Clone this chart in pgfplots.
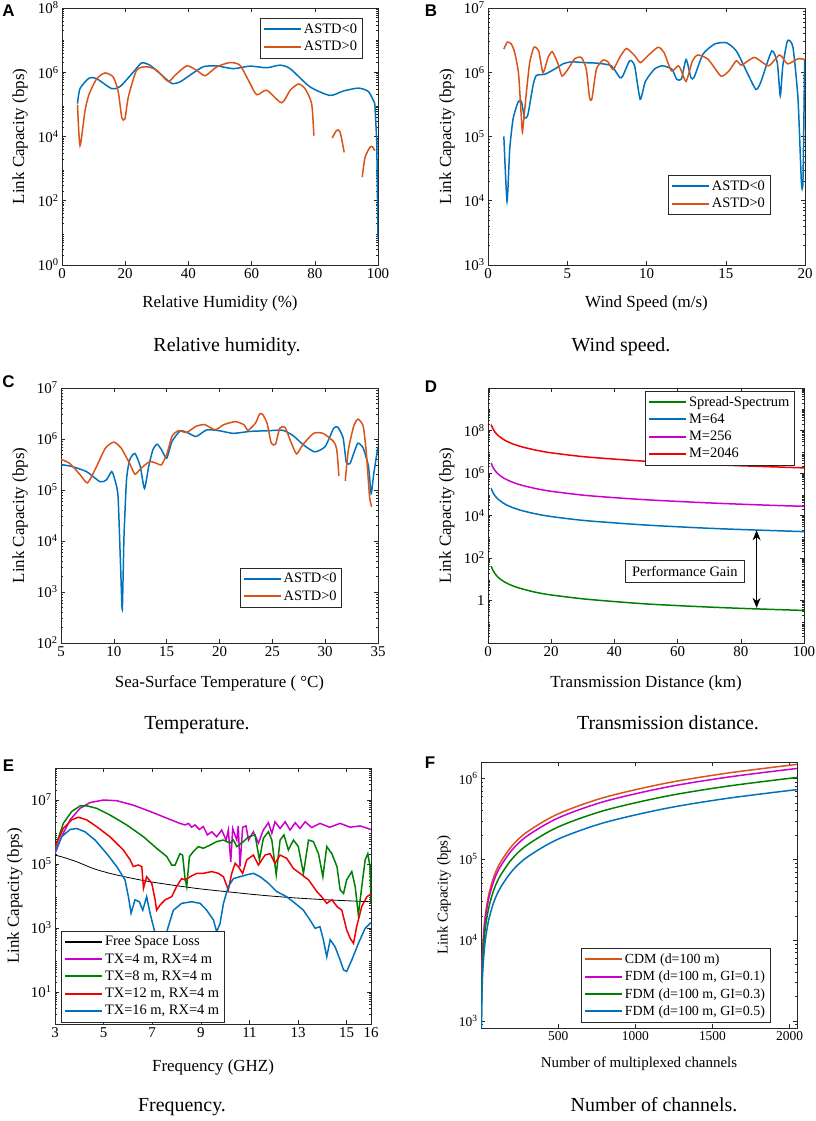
\documentclass[border=0pt]{standalone}
\usepackage{fontspec}
\setmainfont{Liberation Serif}
\newfontfamily\panelfont{Liberation Sans}
\usepackage{pgfplots}
\pgfplotsset{compat=1.18}
\usetikzlibrary{arrows.meta}
\pgfkeys{/pgf/number format/assume math mode=true}
\pgfkeys{/pgf/number format/1000 sep={}}
\definecolor{mblue}{RGB}{0,114,189}
\definecolor{morange}{RGB}{217,83,25}
\definecolor{mgreen}{RGB}{0,128,0}
\definecolor{mmag}{RGB}{204,0,204}
\definecolor{mred}{RGB}{240,0,0}
\definecolor{axgray}{RGB}{40,40,40}

\newcommand\mkminor[3]{%
  \gdef#1{}%
  \foreach \e in {#2,...,#3}{%
    \foreach \m in {2,...,9}{%
      \xdef#1{#1\m e\e,}%
    }%
  }%
  \xdef#1{#1 1e#3}%
}
\mkminor{\minA}{0}{7}
\mkminor{\minB}{3}{6}
\mkminor{\minC}{2}{6}
\mkminor{\minD}{-2}{9}
\mkminor{\minE}{0}{7}
\mkminor{\minF}{2}{6}

\pgfplotsset{
  scale only axis,
  axis line style={axgray, line width=0.6pt},
  tick style={axgray, line width=0.5pt},
  major tick length=4pt, minor tick length=2.2pt,
  tick label style={font=\fontsize{15}{17}\selectfont},
  label style={font=\fontsize{17}{20}\selectfont},
  legend style={font=\fontsize{14.5}{17}\selectfont, draw=axgray, inner xsep=3pt, inner ysep=3.5pt, row sep=2.2pt, fill=white},
  legend cell align=left,
  legend image code/.code={\draw[line width=2pt, #1] (0cm,0cm) -- (1.3cm,0cm);},
  every axis plot/.append style={line width=1.5pt},
  unbounded coords=jump,
}

\begin{document}
\begin{tikzpicture}
\useasboundingbox (0bp,0bp) rectangle (816bp,1121bp);

% ---------------- A ----------------
\begin{axis}[ymode=log, anchor=south west, at={(62bp,856bp)}, width=316bp, height=257bp,
  xmin=0, xmax=100, ymin=1, ymax=1e8,
  xtick={0,20,40,60,80,100},
  ytick={1,1e2,1e4,1e6,1e8},
  yticklabels={10\textsuperscript{0},10\textsuperscript{2},10\textsuperscript{4},10\textsuperscript{6},10\textsuperscript{8}},
  minor ytick/.expanded={\minA},
  xlabel={Relative Humidity (\%)}, ylabel={Link Capacity (bps)},
  xlabel style={at={(axis description cs:0.5,-0.150)},anchor=center},
  ylabel style={at={(axis description cs:-0.133,0.5)},anchor=center},
  legend style={at={(0.95,0.96)},anchor=north east}]
\addplot[mblue, smooth, tension=0.4] coordinates {
(4.9,1.05e5)(5.7,3.1e5)(8.6,6.6e5)(11,6.3e5)(15.7,3.1e5)(18.4,3.6e5)(22.6,1.02e6)
(25.2,1.95e6)(27.8,1.66e6)(31,9.1e5)(34.7,4.5e5)(37.3,5.0e5)(40.5,8.1e5)(44.7,1.48e6)
(49,1.58e6)(54.2,1.29e6)(59.5,1.55e6)(64.8,1.38e6)(69,1.66e6)(72.2,1.29e6)(78.5,3.5e5)
(84.8,1.9e5)(89,2.6e5)(93.8,3.2e5)(97,2.5e5)(99,1.05e5)};
\addlegendentry{ASTD<0}
\addplot[morange, smooth, tension=0.4] coordinates {
(4.9,9.8e4)(5.7,5.2e3)(7.3,6.5e4)(8.6,2.1e5)(11,6.3e5)(13.6,9.5e5)(16.2,7.1e5)
(17.8,2.5e5)(18.9,4.0e4)(19.9,3.5e4)(21,1.7e5)(23.6,1.15e6)(26.8,1.48e6)(30,1.15e6)
(33.6,5.2e5)(35.8,8.1e5)(39.5,1.58e6)(42.6,1.15e6)(45.3,7.8e5)(49,1.48e6)(53.2,2.0e6)
(56.3,1.66e6)(59,5.6e5)(61.6,2.0e5)(64.8,2.75e5)(69.5,1.12e5)(72.2,2.75e5)(74.8,4.3e5)
(76.9,3.1e5)(79,1.05e5)(79.7,1.07e4)(82,nan)
(85.5,8.9e3)(86.9,1.55e4)(88,1.38e4)(89.3,3.2e3)(92,nan)
(95,5.4e2)(95.9,2.24e3)(97.5,4.7e3)(98.3,4.7e3)(99,3.6e3)};
\addlegendentry{ASTD>0}
\addplot[mblue, forget plot] coordinates {(99,1.05e5)(99.6,7.6e3)(100,7.1)};
\end{axis}

% ---------------- B ----------------
\begin{axis}[ymode=log, anchor=south west, at={(488bp,856bp)}, width=317bp, height=257bp,
  xmin=0, xmax=20, ymin=1e3, ymax=1e7,
  xtick={0,5,10,15,20},
  ytick={1e3,1e4,1e5,1e6,1e7},
  yticklabels={10\textsuperscript{3},10\textsuperscript{4},10\textsuperscript{5},10\textsuperscript{6},10\textsuperscript{7}},
  minor ytick/.expanded={\minB},
  xlabel={Wind Speed (m/s)}, ylabel={Link Capacity (bps)},
  xlabel style={at={(axis description cs:0.5,-0.150)},anchor=center},
  ylabel style={at={(axis description cs:-0.129,0.5)},anchor=center},
  legend style={at={(0.89,0.195)},anchor=south east}]
\addplot[mblue, smooth, tension=0.35] coordinates {
(1.0,1.0e5)(1.2,9.8e3)(1.37,6.3e4)(1.58,1.86e5)(1.89,3.4e5)(2.1,3.55e5)(2.31,1.95e5)
(2.52,2.2e5)(2.84,6.2e5)(3.05,8.9e5)(3.58,9.3e5)(4.21,1.12e6)(4.73,1.35e6)(5.26,1.45e6)
(6.1,1.41e6)(6.94,1.38e6)(7.78,1.26e6)(8.31,8.3e5)(8.5,8.7e5)(8.94,1.51e6)(9.25,1.26e6)
(9.6,3.8e5)(9.93,7.2e5)(10.5,1.12e6)(11.0,1.26e6)(11.6,1.12e6)(11.9,7.8e5)(12.2,7.8e5)
(12.5,1.58e6)(12.8,8.3e5)(13.0,8.3e5)(13.56,1.91e6)(14.3,2.75e6)(15.04,2.88e6)(15.67,2.14e6)
(16.4,9.3e5)(16.9,5.4e5)(17.2,6.9e5)(17.9,2.14e6)(18.25,1.41e6)(18.44,4.3e5)(18.6,1.26e6)
(18.9,3.1e6)(19.24,2.45e6)(19.56,3.8e5)(19.77,2.0e4)(19.87,2.0e4)(19.98,1.58e6)};
\addlegendentry{ASTD<0}
\addplot[morange, smooth, tension=0.35] coordinates {
(1.0,2.29e6)(1.22,2.95e6)(1.47,2.75e6)(1.68,2.04e6)(1.93,9.3e5)(2.15,1.29e5)(2.2,1.32e5)
(2.42,4.8e5)(2.63,1.41e6)(2.9,2.45e6)(3.2,2.14e6)(3.47,9.8e5)(3.79,1.7e6)(4.06,2.09e6)
(4.42,1.35e6)(4.67,8.7e5)(5.05,1.12e6)(5.47,1.62e6)(5.89,1.7e6)(6.2,1.12e6)(6.41,4.0e5)
(6.56,3.9e5)(6.84,1.12e6)(7.26,1.55e6)(7.57,1.45e6)(7.89,1.1e6)(8.31,1.7e6)(8.73,2.34e6)
(9.25,1.82e6)(9.61,1.41e6)(10.1,1.82e6)(10.73,2.45e6)(11.1,2.04e6)(11.57,1.05e6)(12,1.26e6)
(12.2,1.05e6)(12.5,7.2e5)(12.9,1.51e6)(13.25,1.86e6)(13.9,1.58e6)(14.7,8.7e5)(15.2,1.05e6)
(15.67,1.51e6)(16,1.29e6)(16.8,1.7e6)(17.7,1.26e6)(18.4,1.86e6)(18.9,1.35e6)(19.56,1.62e6)
(19.98,1.58e6)};
\addlegendentry{ASTD>0}
\end{axis}

% ---------------- C ----------------
\begin{axis}[ymode=log, anchor=south west, at={(61bp,478bp)}, width=317bp, height=255bp,
  xmin=5, xmax=35, ymin=1e2, ymax=1e7,
  xtick={5,10,15,20,25,30,35},
  ytick={1e2,1e3,1e4,1e5,1e6,1e7},
  yticklabels={10\textsuperscript{2},10\textsuperscript{3},10\textsuperscript{4},10\textsuperscript{5},10\textsuperscript{6},10\textsuperscript{7}},
  minor ytick/.expanded={\minC},
  xlabel={Sea-Surface Temperature ( °C)}, ylabel={Link Capacity (bps)},
  xlabel style={at={(axis description cs:0.5,-0.159)},anchor=center},
  ylabel style={at={(axis description cs:-0.129,0.5)},anchor=center},
  legend style={at={(0.886,0.14)},anchor=south east}]
\addplot[mblue, smooth, tension=0.35] coordinates {
(5,3.16e5)(6.0,2.9e5)(7.4,2.3e5)(8.7,1.45e5)(9.3,1.58e5)(9.8,2.3e5)(10.1,1.58e5)
(10.4,7.4e4)(10.65,2.7e3)(10.8,4.5e2)(10.96,1.2e4)(11.2,1.58e5)(11.5,3.9e5)(12.0,5.2e5)
(12.5,2.9e5)(12.9,1.07e5)(13.3,2.9e5)(13.7,6.2e5)(14.1,7.9e5)(14.5,6.2e5)(15.0,4.2e5)
(15.5,8.9e5)(16.3,1.45e6)(17.1,1.29e6)(17.8,1.12e6)(18.8,1.51e6)(20.0,1.45e6)(21.3,1.29e6)
(22.9,1.41e6)(24.5,1.45e6)(26.0,1.48e6)(27.0,1.15e6)(27.9,7.8e5)(29.0,5.6e5)(30.0,7.1e5)
(30.8,1.62e6)(31.2,1.7e6)(31.7,1.05e6)(32.0,3.5e5)(32.35,3.3e5)(32.7,5.2e5)(33.1,8.3e5)
(33.6,6.6e5)(34.1,2.9e5)(34.35,8.5e4)(34.6,2.1e5)(35,7.1e5)};
\addlegendentry{ASTD<0}
\addplot[morange, smooth, tension=0.35] coordinates {
(5,4.0e5)(5.85,3.3e5)(6.8,2.0e5)(7.5,1.38e5)(8.2,2.45e5)(9.2,6.6e5)(10.0,8.7e5)
(10.7,6.6e5)(11.5,3.3e5)(12.0,2.04e5)(12.6,2.7e5)(13.4,3.6e5)(14.1,3.3e5)(14.5,3.1e5)
(15.0,4.9e5)(15.5,1.12e6)(16.1,1.45e6)(16.9,1.35e6)(17.8,1.78e6)(18.6,1.91e6)(19.6,1.51e6)
(20.4,1.91e6)(21.5,2.19e6)(22.3,1.91e6)(22.7,1.48e6)(23.4,2.04e6)(23.8,3.1e6)(24.1,3.0e6)
(24.5,2.04e6)(24.9,8.3e5)(25.3,7.9e5)(25.7,1.62e6)(26.2,1.7e6)(26.8,8.3e5)(27.3,5.1e5)
(27.9,7.8e5)(28.9,1.29e6)(29.8,1.29e6)(30.8,8.9e5)(31.1,6.2e5)(31.3,1.9e5)(31.6,nan)
(31.9,1.51e5)(32.2,6.2e5)(32.7,1.78e6)(33.1,2.45e6)(33.6,1.78e6)(33.9,5.2e5)(34.2,7.4e4)
(34.4,4.7e4)};
\addlegendentry{ASTD>0}
\end{axis}

% ---------------- D ----------------
\begin{axis}[ymode=log, anchor=south west, at={(488bp,478bp)}, width=316bp, height=255bp,
  xmin=0, xmax=100, ymin=1e-2, ymax=1e10,
  xtick={0,20,40,60,80,100},
  ytick={1,1e2,1e4,1e6,1e8},
  yticklabels={1,10\textsuperscript{2},10\textsuperscript{4},10\textsuperscript{6},10\textsuperscript{8}},
  minor ytick/.expanded={\minD},
  xlabel={Transmission Distance (km)}, ylabel={Link Capacity (bps)},
  xlabel style={at={(axis description cs:0.5,-0.159)},anchor=center},
  ylabel style={at={(axis description cs:-0.13,0.5)},anchor=center},
  legend style={at={(0.97,0.99)},anchor=north east}]
\addplot[mgreen, smooth] coordinates {
(1,41.7)(1.5,27.5)(2,20.4)(3,13.2)(4,9.8)(5,7.8)(7,5.5)(10,3.8)(15,2.45)(20,1.82)
(30,1.2)(40,0.89)(50,0.69)(60,0.575)(70,0.49)(80,0.427)(90,0.38)(100,0.34)};
\addlegendentry{Spread-Spectrum}
\addplot[mblue, smooth] coordinates {
(1,1.9e5)(1.5,1.26e5)(2,9.3e4)(3,6.2e4)(4,4.7e4)(5,3.7e4)(7,2.63e4)(10,1.82e4)(15,1.2e4)
(20,8.9e3)(30,5.9e3)(40,4.5e3)(50,3.55e3)(60,2.95e3)(70,2.5e3)(80,2.19e3)(90,1.95e3)(100,1.74e3)};
\addlegendentry{M=64}
\addplot[mmag, smooth] coordinates {
(1,2.95e6)(1.5,1.95e6)(2,1.45e6)(3,9.5e5)(4,7.2e5)(5,5.75e5)(7,4.1e5)(10,2.82e5)(15,1.86e5)
(20,1.38e5)(30,9.1e4)(40,6.9e4)(50,5.5e4)(60,4.6e4)(70,3.9e4)(80,3.4e4)(90,3.0e4)(100,2.7e4)};
\addlegendentry{M=256}
\addplot[mred, smooth] coordinates {
(1,1.9e8)(1.5,1.26e8)(2,9.3e7)(3,6.2e7)(4,4.7e7)(5,3.7e7)(7,2.63e7)(10,1.82e7)(15,1.2e7)
(20,8.9e6)(30,5.9e6)(40,4.5e6)(50,3.55e6)(60,2.95e6)(70,2.5e6)(80,2.19e6)(90,1.95e6)(100,1.74e6)};
\addlegendentry{M=2046}
\draw[{Stealth[length=10pt,width=8pt]}-{Stealth[length=10pt,width=8pt]}, line width=0.8pt]
  (axis cs:85,2.0e3) -- (axis cs:85,0.45);
\node[draw=axgray, line width=0.5pt, fill=white, inner xsep=7pt, inner ysep=6pt, font=\fontsize{14.5}{17}\selectfont]
  at (axis cs:62.3,24) {Performance Gain};
\end{axis}

% ---------------- E ----------------
\begin{axis}[ymode=log, anchor=south west, at={(55bp,97bp)}, width=316bp, height=256bp,
  xmin=3, xmax=16, ymin=1, ymax=1e8,
  xtick={3,5,7,9,11,13,15,16},
  ytick={1e1,1e3,1e5,1e7},
  yticklabels={10\textsuperscript{1},10\textsuperscript{3},10\textsuperscript{5},10\textsuperscript{7}},
  minor ytick/.expanded={\minE},
  xlabel={Frequency (GHZ)}, ylabel={Link Capacity (bps)},
  xlabel style={at={(axis description cs:0.5,-0.17)},anchor=center},
  ylabel style={at={(axis description cs:-0.127,0.5)},anchor=center},
  legend style={at={(0.019,0.008)},anchor=south west}]
\addlegendimage{black, line width=0.8pt}
\addlegendentry{Free Space Loss}
\addplot[black, line width=0.8pt, smooth, forget plot] coordinates {
(3,1.9e5)(3.34,1.62e5)(3.9,1.17e5)(4.58,7.2e4)(5.26,5.1e4)(6.0,3.8e4)(6.9,2.8e4)(8,2.1e4)
(9,1.66e4)(10,1.38e4)(11,1.15e4)(12,9.8e3)(13.1,8.5e3)(14.5,7.4e3)(16,6.6e3)};
\addplot[mmag] coordinates {
(3,2.1e5)(3.27,7.1e5)(3.62,2.4e6)(4.03,5.5e6)(4.44,8.3e6)(5.0,1.0e7)(5.54,9.5e6)(6.22,6.9e6)
(6.91,4.4e6)(7.6,2.7e6)(8.14,1.86e6)(8.35,1.66e6)(8.49,1.86e6)(8.62,1.41e6)(8.76,1.66e6)
(8.94,1.2e6)(9.1,1.48e6)(9.27,8.1e5)(9.45,1.02e6)(9.65,7.1e5)(9.86,1.15e6)(10.04,5.6e5)
(10.13,1.15e6)(10.23,1.17e5)(10.31,1.29e6)(10.48,5.6e5)(10.54,1.55e6)(10.61,8.3e4)
(10.72,1.41e6)(10.86,1.55e6)(10.96,5.6e5)(11.16,1.02e6)(11.37,4.5e5)(11.57,1.15e6)
(11.78,1.95e6)(11.92,9.1e5)(12.05,2.09e6)(12.26,1.29e6)(12.47,2.09e6)(12.67,1.15e6)
(12.88,1.95e6)(13.08,1.29e6)(13.29,2.09e6)(13.56,1.38e6)(13.9,1.86e6)(14.3,1.41e6)
(14.73,1.86e6)(15.14,1.41e6)(15.55,1.55e6)(16,1.2e6)};
\addlegendentry{TX=4 m, RX=4 m}
\addplot[mgreen] coordinates {
(3,3.1e5)(3.34,1.86e6)(3.69,4.4e6)(4.03,6.5e6)(4.3,6.6e6)(4.71,5.5e6)(5.26,3.4e6)(5.95,1.66e6)
(6.64,7.1e5)(7.18,3.1e5)(7.6,1.7e5)(7.8,9.3e4)(7.94,9.3e4)(8.14,2.1e5)(8.25,1.9e5)(8.35,3.5e4)
(8.42,1.95e4)(8.53,1.7e5)(8.69,2.45e5)(8.9,3.5e5)(9.1,3.1e5)(9.38,3.9e5)(9.65,5.0e5)
(9.93,5.6e5)(10.2,4.5e5)(10.34,5.6e5)(10.48,3.5e5)(10.75,5.0e5)(10.96,7.1e5)(11.23,8.1e5)
(11.41,1.35e5)(11.57,6.3e5)(11.78,1.02e6)(11.92,5.6e5)(12.1,4.6e4)(12.26,5.6e5)(12.42,8.1e5)
(12.6,2.75e5)(12.81,5.6e5)(13.01,3.5e5)(13.22,5.1e4)(13.43,5.6e5)(13.63,5.0e5)(13.84,2.1e5)
(14.02,4.0e4)(14.18,3.5e5)(14.39,2.1e5)(14.6,8.3e4)(14.73,1.55e4)(14.87,1.2e4)(15.0,3.2e4)
(15.21,5.8e4)(15.35,1.95e4)(15.48,2.6e3)(15.62,1.95e4)(15.76,1.35e5)(15.87,2.1e5)
(15.96,8.3e4)(16,5.9e3)};
\addlegendentry{TX=8 m, RX=4 m}
\addplot[mred] coordinates {
(3,3.5e5)(3.34,1.29e6)(3.69,2.4e6)(3.96,2.9e6)(4.3,2.4e6)(4.71,1.48e6)(5.26,7.1e5)(5.81,2.75e5)
(6.09,1.35e5)(6.22,8.3e4)(6.43,9.3e4)(6.57,8.3e4)(6.64,1.74e4)(6.77,4.0e4)(6.98,2.5e4)
(7.12,7.6e3)(7.18,3.6e3)(7.32,5.2e3)(7.53,7.6e3)(7.8,9.5e3)(8.0,1.95e4)(8.21,3.5e4)
(8.35,3.2e4)(8.56,4.0e4)(8.83,5.1e4)(9.1,5.1e4)(9.45,5.8e4)(9.72,5.1e4)(9.93,4.0e4)
(10.13,1.55e4)(10.27,5.1e4)(10.41,1.05e5)(10.54,8.3e4)(10.72,5.1e4)(10.89,1.35e5)
(11.16,1.9e5)(11.37,9.3e4)(11.64,1.9e5)(11.85,2.1e5)(12.05,1.05e5)(12.26,1.9e5)(12.53,1.51e5)
(12.81,7.2e4)(13.08,5.1e4)(13.43,3.2e4)(13.77,1.38e4)(13.97,9.5e3)(14.18,5.9e3)(14.39,7.6e3)
(14.6,4.7e3)(14.8,3.6e3)(15.0,8.7e2)(15.14,4.8e2)(15.28,3.3e2)(15.41,1.1e3)(15.62,4.7e3)
(15.83,9.5e3)(16,1.15e4)};
\addlegendentry{TX=12 m, RX=4 m}
\addplot[mblue] coordinates {
(3,2.45e5)(3.27,7.1e5)(3.62,1.2e6)(3.89,1.29e6)(4.23,1.02e6)(4.65,5.6e5)(5.13,2.1e5)(5.54,8.3e4)
(5.88,3.2e4)(6.02,9.5e3)(6.13,2.9e3)(6.29,7.6e3)(6.47,6.6e3)(6.61,3.6e3)(6.77,9.5e3)(6.91,2.9e3)
(7.05,1.1e3)(7.18,4.3e2)(7.4,2.0e2)(7.66,1.1e3)(7.87,3.6e3)(8.21,5.9e3)(8.62,6.6e3)(8.97,5.9e3)
(9.24,3.6e3)(9.52,1.78e3)(9.65,7.6e2)(9.79,1.38e3)(9.93,5.9e3)(10.13,1.95e4)(10.34,3.5e4)
(10.61,4.0e4)(10.89,4.6e4)(11.16,5.1e4)(11.44,4.0e4)(11.78,2.5e4)(12.12,1.38e4)(12.53,9.5e3)
(12.88,5.9e3)(13.22,3.6e3)(13.49,1.78e3)(13.7,9.8e2)(13.9,1.1e3)(14.04,4.3e2)(14.18,1.26e2)
(14.32,4.3e2)(14.52,2.6e2)(14.73,1.0e2)(14.87,49)(15.0,44)(15.21,1.0e2)(15.48,3.3e2)
(15.76,9.8e2)(16,1.48e3)};
\addlegendentry{TX=16 m, RX=4 m}
\end{axis}

% ---------------- F ----------------
\begin{axis}[ymode=log, anchor=south west, at={(481bp,93bp)}, width=316bp, height=266bp,
  xmin=0, xmax=2048, ymin=820, ymax=1.6e6,
  xtick={500,1000,1500,2000},
  ytick={1e3,1e4,1e5,1e6},
  yticklabels={10\textsuperscript{3},10\textsuperscript{4},10\textsuperscript{5},10\textsuperscript{6}},
  minor ytick/.expanded={\minF},
  tick label style={font=\fontsize{13.5}{16}\selectfont},
  label style={font=\fontsize{15}{18}\selectfont},
  legend style={font=\fontsize{14}{17}\selectfont},
  xlabel={Number of multiplexed channels}, ylabel={Link Capacity (bps)},
  xlabel style={at={(axis description cs:0.5,-0.133)},anchor=center},
  ylabel style={at={(axis description cs:-0.117,0.5)},anchor=center},
  legend style={at={(0.915,0.02)},anchor=south east}]
\addplot[morange, smooth] coordinates {
(1,730)(2,1460)(3,2190)(5,3650)(8,5840)(12,8760)(20,1.46e4)(30,2.19e4)(50,3.65e4)(80,5.84e4)
(120,8.76e4)(200,1.46e5)(300,2.19e5)(500,3.65e5)(800,5.84e5)(1200,8.76e5)(1600,1.168e6)(2048,1.495e6)};
\addlegendentry{CDM (d=100 m)}
\addplot[mmag, smooth] coordinates {
(1,650)(2,1300)(3,1950)(5,3250)(8,5200)(12,7800)(20,1.3e4)(30,1.95e4)(50,3.25e4)(80,5.2e4)
(120,7.8e4)(200,1.3e5)(300,1.95e5)(500,3.25e5)(800,5.2e5)(1200,7.8e5)(1600,1.04e6)(2048,1.331e6)};
\addlegendentry{FDM (d=100 m, GI=0.1)}
\addplot[mgreen, smooth] coordinates {
(1,503)(2,1006)(3,1509)(5,2515)(8,4024)(12,6036)(20,1.006e4)(30,1.509e4)(50,2.515e4)(80,4.024e4)
(120,6.036e4)(200,1.006e5)(300,1.509e5)(500,2.515e5)(800,4.024e5)(1200,6.036e5)(1600,8.048e5)(2048,1.03e6)};
\addlegendentry{FDM (d=100 m, GI=0.3)}
\addplot[mblue, smooth] coordinates {
(1,356)(2,712)(3,1068)(5,1780)(8,2848)(12,4272)(20,7120)(30,1.068e4)(50,1.78e4)(80,2.848e4)
(120,4.272e4)(200,7.12e4)(300,1.068e5)(500,1.78e5)(800,2.848e5)(1200,4.272e5)(1600,5.696e5)(2048,7.29e5)};
\addlegendentry{FDM (d=100 m, GI=0.5)}
\end{axis}

% captions
\begin{scope}[every node/.style={font=\fontsize{20}{24}\selectfont, anchor=base, inner sep=0pt}]
\node at (227bp,769bp) {Relative humidity.};
\node at (621bp,769bp) {Wind speed.};
\node at (197bp,391bp) {Temperature.};
\node at (668bp,391bp) {Transmission distance.};
\node at (182bp,10bp) {Frequency.};
\node at (654bp,10bp) {Number of channels.};
\end{scope}
% panel letters
\begin{scope}[every node/.style={font=\panelfont\bfseries\fontsize{17}{20}\selectfont, inner sep=0pt}]
\node at (8.5bp,1110bp) {A};
\node at (431bp,1110bp) {B};
\node at (8.5bp,739bp) {C};
\node at (431bp,734bp) {D};
\node at (8.5bp,355bp) {E};
\node at (430bp,358bp) {F};
\end{scope}
\end{tikzpicture}
\end{document}
